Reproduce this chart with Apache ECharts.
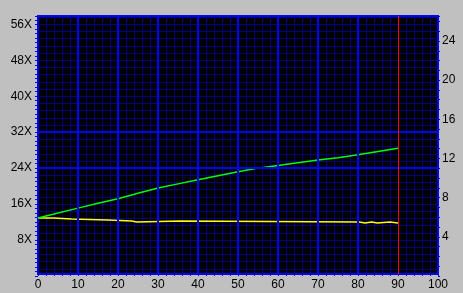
<!DOCTYPE html>
<html><head><meta charset="utf-8">
<script src="https://cdn.jsdelivr.net/npm/echarts@6/dist/echarts.min.js"></script>
<style>html,body{margin:0;padding:0;background:#c0c0c0;}#c{width:463px;height:293px;}</style>
</head><body><div id="c"></div>
<script>
// Tick labels
const xLabels = [0, 10, 20, 30, 40, 50, 60, 70, 80, 90, 100];
const leftLabels = [8, 16, 24, 32, 40, 48, 56];
const rightLabels = [4, 8, 12, 16, 20, 24];
// Green curve (read speed, X)
const greenX = [0, 5, 10, 15, 20, 25, 30, 35, 40, 45, 50, 55, 60, 65, 70, 75, 80, 85, 90];
const greenY = [12.9, 14.0, 15.1, 16.2, 17.2, 18.4, 19.6, 20.5, 21.4, 22.3, 23.2, 24.0, 24.6, 25.2, 25.8, 26.3, 27.0, 27.7, 28.4];
// Yellow curve (stepped)
const yellowX = [0, 3.8, 8.4, 17.5, 23.4, 24.7, 35.5, 80.3, 81.75, 83.4, 84.8, 88, 90];
const yellowY = [12.9, 12.67, 12.44, 12.22, 12.0, 12.22, 12.0, 11.78, 12.0, 11.78, 12.0, 11.78, 11.78];
// Markers
const endMarker = 90;
const brightRows = [24, 32];
const brightCols = [10, 20, 30, 40, 50, 60, 70, 80];

const FONT = '"Liberation Sans", Arial, sans-serif';
const BLUE = '#0000ff', NAVY = '#000080';
const chart = echarts.init(document.getElementById('c'), null, {renderer: 'canvas'});
const lbl = {color: '#000', fontSize: 12, fontFamily: FONT};
const has = (arr, v) => arr.some(a => Math.abs(a - v) < 1e-6);

chart.setOption({
  animation: false,
  backgroundColor: '#c0c0c0',
  grid: [
    {left: 38, right: 25, top: 16, bottom: 19, show: true, backgroundColor: '#000', borderColor: BLUE, borderWidth: 2},
    {left: 38, right: 25, top: 16, bottom: 17, show: false}
  ],
  xAxis: [
    {gridIndex: 0, type: 'value', min: 0, max: 100, interval: 10, position: 'bottom',
     axisLine: {show: false},
     axisTick: {show: true, length: 2, lineStyle: {color: BLUE}},
     minorTick: {show: true, splitNumber: 5, length: 2, lineStyle: {color: BLUE}},
     splitLine: {show: false},
     minorSplitLine: {show: true, lineStyle: {color: NAVY, width: 1}},
     axisLabel: Object.assign({margin: 5, formatter: v => has(xLabels, v) ? String(v) : ''}, lbl)},
    {gridIndex: 1, type: 'value', min: 0, max: 100, show: false}
  ],
  yAxis: [
    {gridIndex: 1, type: 'value', min: 0, max: 57.85, interval: 8, position: 'left',
     axisLine: {show: false}, axisTick: {show: false}, splitLine: {show: false},
     axisLabel: Object.assign({margin: 6, showMaxLabel: false, formatter: v => has(leftLabels, v) ? v + 'X' : ''}, lbl)},
    {gridIndex: 1, type: 'value', min: 0, max: 57.85, interval: 1, position: 'left',
     axisLine: {show: false}, axisLabel: {show: false}, splitLine: {show: false},
     axisTick: {show: true, length: 3, lineStyle: {color: BLUE}}},
    {gridIndex: 1, type: 'value', min: 0, max: 57.85, interval: 1.6, position: 'left',
     axisLine: {show: false}, axisLabel: {show: false}, axisTick: {show: false},
     splitLine: {show: true, showMinLine: false, showMaxLine: false, lineStyle: {color: NAVY, width: 1}}},
    {gridIndex: 1, type: 'value', min: 0, max: 26.55, interval: 4, position: 'right',
     axisLine: {show: false}, axisTick: {show: false}, splitLine: {show: false},
     axisLabel: Object.assign({margin: 4, showMaxLabel: false, formatter: v => has(rightLabels, v) ? String(v) : ''}, lbl)},
    {gridIndex: 1, type: 'value', min: 0, max: 26.55, interval: 1, position: 'right',
     axisLine: {show: false}, axisLabel: {show: false}, splitLine: {show: false},
     axisTick: {show: true, length: 2, lineStyle: {color: BLUE}}},
    {gridIndex: 0, type: 'value', min: 0, max: 1, show: false}
  ],
  series: [
    {type: 'line', xAxisIndex: 1, yAxisIndex: 0, data: [], silent: true, z: 2,
     markLine: {silent: true, symbol: ['none', 'none'], label: {show: false}, animation: false,
       lineStyle: {color: BLUE, width: 2, type: 'solid'},
       data: brightRows.map(v => ({yAxis: v}))}},
    {type: 'line', xAxisIndex: 0, yAxisIndex: 5, data: [], silent: true, z: 2,
     markLine: {silent: true, symbol: ['none', 'none'], label: {show: false}, animation: false,
       lineStyle: {color: BLUE, width: 2, type: 'solid'},
       data: brightCols.map(v => ({xAxis: v})).concat([{xAxis: endMarker, lineStyle: {color: '#ff0000', width: 1, type: 'solid'}}])}},
    {type: 'line', xAxisIndex: 1, yAxisIndex: 0, showSymbol: false, z: 4,
     step: 'end', lineStyle: {color: '#ffff00', width: 1.5},
     data: yellowX.map((x, i) => [x, yellowY[i]])},
    {type: 'line', xAxisIndex: 1, yAxisIndex: 0, showSymbol: false, z: 4,
     lineStyle: {color: '#00ff00', width: 1.5},
     data: greenX.map((x, i) => [x, greenY[i]])}
  ]
});
</script></body></html>
